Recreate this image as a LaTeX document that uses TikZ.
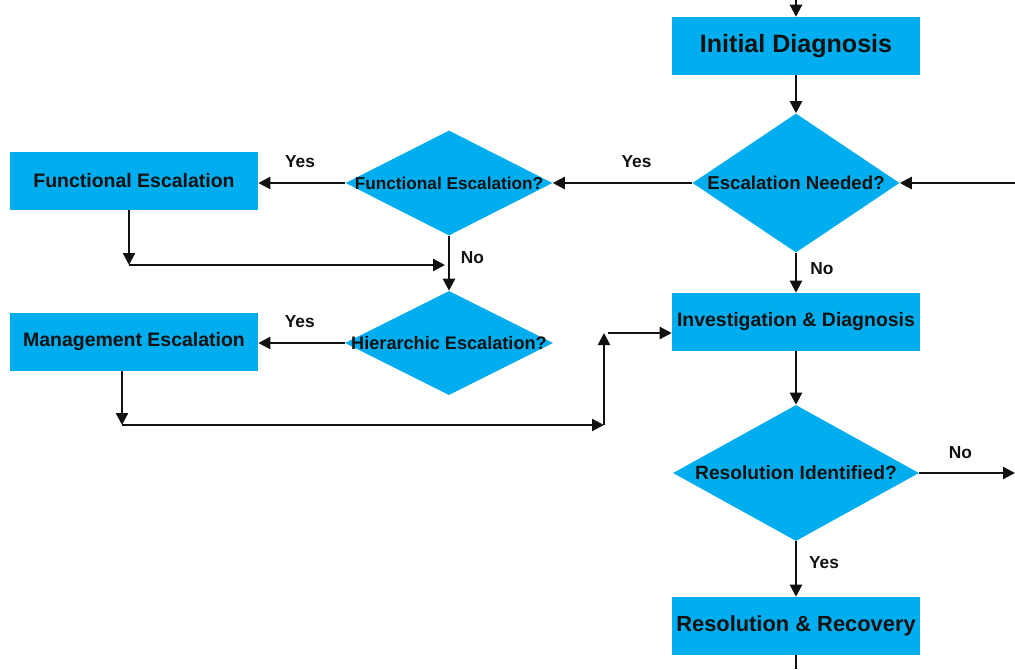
\documentclass[tikz,border=0pt]{standalone}
\usepackage{fontspec}
\setmainfont{Liberation Sans}
\usetikzlibrary{shapes.geometric,arrows.meta}
\definecolor{boxblue}{RGB}{0,174,239}
\definecolor{ink}{RGB}{17,17,17}
\tikzset{
  pbox/.style={rectangle, fill=boxblue, minimum width=186pt, minimum height=43.5pt, inner sep=0pt, text=ink, font=\bfseries\fontsize{14.6}{16}\selectfont},
  dia/.style={diamond, fill=boxblue, inner sep=0pt},
  dtext/.style={text=ink, inner sep=0pt, font=\bfseries\fontsize{14}{16}\selectfont},
  lab/.style={text=ink, inner sep=0pt, font=\bfseries\fontsize{13}{15}\selectfont},
  arr/.style={draw=ink, line width=1.7pt, -{Triangle[length=9pt,width=9pt]}},
  ln/.style={draw=ink, line width=1.7pt}
}
\begin{document}
\begin{tikzpicture}[x=0.75pt,y=-0.75pt]
\useasboundingbox (0,0) rectangle (1015,669);
% nodes
\node[pbox, font=\bfseries\fontsize{18.8}{20}\selectfont] (id) at (796,46) {Initial Diagnosis};
\node[dia, minimum width=155.25pt, minimum height=104.25pt, label={[dtext]center:Escalation Needed?}] (en) at (796,183) {};
\node[dia, minimum width=155.25pt, minimum height=78.75pt, label={[dtext, font=\bfseries\fontsize{12.9}{15}\selectfont]center:Functional Escalation?}] (fq) at (449,183) {};
\node[pbox] (fe) at (134,181) {Functional Escalation};
\node[dia, minimum width=156pt, minimum height=78pt, label={[dtext, font=\bfseries\fontsize{13.6}{15}\selectfont]center:Hierarchic Escalation?}] (hq) at (449,343) {};
\node[pbox] (me) at (134,342) {Management Escalation};
\node[pbox] (inv) at (796,322) {Investigation \& Diagnosis};
\node[dia, minimum width=184.5pt, minimum height=102pt, label={[dtext, font=\bfseries\fontsize{14.4}{16}\selectfont]center:Resolution Identified?}] (ri) at (796,473) {};
\node[pbox, font=\bfseries\fontsize{16.4}{18}\selectfont] (rr) at (796,626) {Resolution \& Recovery};
% free ends
\coordinate (topin) at (796,0);
\coordinate (rightin) at (1015,183);
\coordinate (rightout) at (1015,473);
\coordinate (botout) at (796,669);
\coordinate (c1) at (129,265);
\coordinate (c2) at (445,265);
\coordinate (c3) at (122,425);
\coordinate (c4) at (604,425);
\coordinate (c5) at (604,333);
\coordinate (c6) at (608,333);
% connectors
\draw[arr] (topin) -- (id.north);
\draw[arr] (id.south) -- (en.north);
\draw[arr] (rightin) -- (en.east);
\draw[arr] (en.west) -- node[lab, above=11pt, pos=0.4] (y1) {Yes} (fq.east);
\draw[arr] (fq.west) -- node[lab, above=11pt, pos=0.52] (y2) {Yes} (fq.west -| fe.east);
\draw[arr] (fe.south -| c1) -- (c1);
\draw[arr] (c1) -- (c2);
\draw[arr] (fq.south) -- node[lab, right=8pt, pos=0.4] (n1) {No} (hq.north);
\draw[arr] (hq.west) -- node[lab, above=11pt, pos=0.52] (y3) {Yes} (hq.west -| me.east);
\draw[arr] (me.south -| c3) -- (c3);
\draw[arr] (c3) -- (c4);
\draw[arr] (c4) -- (c5);
\draw[arr] (c6) -- (c6 -| inv.west);
\draw[arr] (en.south) -- node[lab, right=10pt, pos=0.4] (n2) {No} (inv.north);
\draw[arr] (inv.south) -- (ri.north);
\draw[arr] (ri.east) -- node[lab, above=10pt, pos=0.43] (n3) {No} (rightout);
\draw[arr] (ri.south) -- node[lab, right=9pt, pos=0.38] (y4) {Yes} (rr.north);
\draw[ln] (rr.south) -- (botout);
\end{tikzpicture}
\end{document}
